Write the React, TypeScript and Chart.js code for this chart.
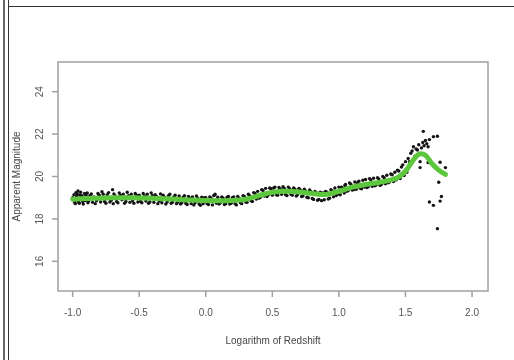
import React, { useEffect, useRef } from "react";
import { Chart, registerables } from "chart.js";

Chart.register(...registerables);

// Observed data (log redshift vs apparent magnitude)
const obsX: number[] = [
  -1.0, -0.99, -0.985, -0.98, -0.975, -0.97, -0.965, -0.96, -0.96, -0.955, -0.95, -0.945, -0.94, -0.93, -0.925, -0.92, -0.91, -0.905, -0.9, -0.89, -0.885, -0.88, -0.87, -0.86, -0.85, -0.84, -0.83, -0.82, -0.81, -0.8, -0.79, -0.78, -0.77, -0.76, -0.75, -0.74, -0.73, -0.72, -0.71, -0.7, -0.695, -0.69, -0.68, -0.67, -0.66, -0.65, -0.64, -0.63, -0.62, -0.61, -0.6, -0.59, -0.58, -0.57, -0.56, -0.55, -0.54, -0.53, -0.52, -0.51,
  -0.5, -0.49, -0.48, -0.47, -0.46, -0.45, -0.44, -0.43, -0.42, -0.41, -0.4, -0.39, -0.38, -0.37, -0.36, -0.35, -0.34, -0.33, -0.32, -0.31, -0.3, -0.29, -0.28, -0.27, -0.26, -0.25, -0.24, -0.23, -0.22, -0.21, -0.2, -0.19, -0.18, -0.17, -0.16, -0.15, -0.14, -0.13, -0.12, -0.11, -0.1, -0.09, -0.08, -0.07, -0.06, -0.05, -0.04, -0.03, -0.02, -0.01,
  0.0, 0.01, 0.02, 0.03, 0.04, 0.05, 0.06, 0.065, 0.07, 0.08, 0.09, 0.1, 0.11, 0.12, 0.13, 0.14, 0.15, 0.16, 0.17, 0.18, 0.19, 0.2, 0.21, 0.22, 0.23, 0.24, 0.25, 0.26, 0.27, 0.28, 0.29, 0.3, 0.31, 0.32, 0.33, 0.34, 0.35, 0.36, 0.37, 0.38, 0.39, 0.4, 0.41, 0.42, 0.43, 0.44, 0.45, 0.46, 0.47, 0.48, 0.49, 0.5,
  0.51, 0.52, 0.53, 0.54, 0.55, 0.56, 0.57, 0.58, 0.59, 0.6, 0.61, 0.62, 0.63, 0.64, 0.65, 0.66, 0.67, 0.68, 0.69, 0.7, 0.71, 0.72, 0.73, 0.74, 0.75, 0.76, 0.77, 0.78, 0.79, 0.8, 0.81, 0.82, 0.83, 0.84, 0.85, 0.86, 0.87, 0.88, 0.89, 0.9, 0.91, 0.92, 0.93, 0.94, 0.95, 0.96, 0.97, 0.98, 0.99, 1.0, 1.045,
  1.01, 1.02, 1.03, 1.04, 1.05, 1.06, 1.07, 1.08, 1.09, 1.1, 1.11, 1.12, 1.13, 1.14, 1.15, 1.16, 1.17, 1.18, 1.19, 1.2, 1.21, 1.22, 1.23, 1.24, 1.25, 1.26, 1.27, 1.28, 1.29, 1.3, 1.31, 1.32, 1.33, 1.34, 1.35, 1.36, 1.37, 1.38, 1.39, 1.4, 1.41, 1.42, 1.43, 1.44, 1.45, 1.46, 1.47, 1.48, 1.49, 1.5, 1.51, 1.52, 1.53, 1.54, 1.55, 1.56, 1.57, 1.58, 1.59, 1.6, 1.62, 1.63, 1.64, 1.65,
  1.634, 1.74, 1.71, 1.68, 1.66, 1.67, 1.61, 1.61, 1.67, 1.76, 1.8, 1.75, 1.77, 1.76, 1.68, 1.71, 1.74
];

const obsY: number[] = [
  19.0, 19.14, 18.78, 18.72, 19.24, 19.08, 19.18, 18.86, 19.32, 18.8, 18.74, 19.12, 19.26, 19.1, 18.82, 18.7, 19.2, 18.86, 19.12, 19.22, 18.76, 18.84, 19.1, 19.18, 18.78, 19.04, 18.72, 18.86, 19.2, 19.12, 18.8, 19.28, 19.16, 18.82, 18.74, 19.14, 19.24, 18.8, 18.88, 19.38, 18.72, 19.18, 19.08, 18.82, 18.76, 19.22, 19.12, 18.9, 19.16, 18.74, 18.82, 19.26, 19.1, 18.78, 19.16, 18.86, 18.74, 19.2, 19.12, 18.8,
  19.12, 18.82, 18.76, 19.2, 19.08, 18.84, 19.16, 18.74, 18.8, 19.22, 19.1, 18.78, 19.14, 19.06, 18.72, 18.84, 19.18, 18.76, 19.12, 19.02, 18.7, 18.8, 19.1, 19.16, 18.74, 18.78, 19.04, 19.12, 18.72, 18.8, 19.08, 18.7, 18.76, 19.02, 19.1, 18.74, 18.68, 19.06, 18.98, 18.72, 19.04, 18.66, 18.76, 19.08, 18.98, 18.7, 18.64, 19.02, 18.72, 19.0,
  19.0, 18.72, 18.68, 19.04, 18.98, 18.66, 19.1, 19.12, 19.16, 18.74, 19.02, 18.7, 18.76, 19.04, 18.98, 18.68, 18.72, 19.02, 19.06, 18.7, 18.74, 19.0, 19.04, 18.72, 18.66, 19.06, 18.98, 18.76, 18.72, 19.1, 19.06, 18.8, 18.78, 19.16, 19.1, 18.86, 18.82, 19.24, 19.2, 18.94, 19.3, 18.98, 19.02, 19.38, 19.34, 19.08, 19.44, 19.06, 19.14, 19.46, 19.42, 19.12,
  19.46, 19.5, 19.14, 19.12, 19.48, 19.4, 19.16, 19.52, 19.44, 19.14, 19.1, 19.5, 19.42, 19.16, 19.12, 19.46, 19.4, 19.08, 19.14, 19.44, 19.36, 19.06, 19.08, 19.4, 19.32, 19.02, 19.0, 19.36, 19.28, 18.96, 18.92, 19.3, 19.24, 18.88, 18.92, 19.26, 18.86, 19.22, 18.9, 19.3, 19.26, 18.94, 18.98, 19.38, 19.32, 19.04, 19.46, 19.1, 19.16, 19.5, 19.58,
  19.14, 19.5, 19.44, 19.22, 19.62, 19.3, 19.34, 19.7, 19.64, 19.36, 19.38, 19.74, 19.4, 19.7, 19.78, 19.44, 19.42, 19.82, 19.5, 19.86, 19.48, 19.52, 19.9, 19.84, 19.54, 19.92, 19.56, 19.6, 19.94, 19.88, 19.58, 19.64, 20.0, 19.94, 19.66, 20.06, 19.7, 19.74, 20.12, 20.08, 19.76, 20.2, 19.84, 20.3, 20.26, 19.9, 20.45, 20.55, 20.05, 20.7, 20.2, 20.85, 20.7, 21.1, 21.2, 21.4, 20.95, 21.3, 21.25, 21.5, 21.35, 21.6, 21.45, 21.7,
  22.13, 21.9, 21.88, 21.74, 21.55, 21.4, 20.7, 20.42, 20.66, 20.67, 20.42, 19.73, 19.06, 18.84, 18.8, 18.64, 17.54
];

// Smoothed fit (green curve)
const fitX: number[] = [-1.0, -0.9, -0.8, -0.7, -0.6, -0.5, -0.4, -0.3, -0.2, -0.1, 0.0, 0.1, 0.2, 0.3, 0.4, 0.5, 0.6, 0.7, 0.8, 0.9, 1.0, 1.1, 1.2, 1.3, 1.4, 1.45, 1.5, 1.55, 1.6, 1.65, 1.7, 1.75, 1.8];
const fitY: number[] = [18.93, 18.96, 18.98, 19.0, 19.0, 18.99, 18.98, 18.95, 18.92, 18.89, 18.87, 18.86, 18.87, 18.93, 19.1, 19.25, 19.3, 19.27, 19.2, 19.15, 19.3, 19.5, 19.62, 19.72, 19.85, 19.98, 20.25, 20.7, 21.05, 21.0, 20.6, 20.3, 20.1];

const xTitle = "Logarithm of Redshift";
const yTitle = "Apparent Magnitude";

const FONT = '10px "Liberation Sans", Arial, sans-serif';

const rAxes = {
  id: "rAxes",
  afterDraw(chart: any) {
    const { ctx, chartArea: a, scales } = chart;
    const x = scales.x;
    const y = scales.y;
    ctx.save();
    ctx.strokeStyle = "#a0a0a0";
    ctx.lineWidth = 1.5;
    ctx.strokeRect(a.left, a.top, a.right - a.left, a.bottom - a.top);
    ctx.font = FONT;
    ctx.fillStyle = "#555";
    ctx.textAlign = "center";
    ctx.textBaseline = "middle";
    x.ticks.forEach((t: any) => {
      const px = x.getPixelForValue(t.value);
      ctx.beginPath();
      ctx.moveTo(px, a.bottom);
      ctx.lineTo(px, a.bottom + 6);
      ctx.stroke();
      ctx.fillText(Number(t.value).toFixed(1), px, a.bottom + 22);
    });
    y.ticks.forEach((t: any) => {
      const py = y.getPixelForValue(t.value);
      ctx.beginPath();
      ctx.moveTo(a.left, py);
      ctx.lineTo(a.left - 6, py);
      ctx.stroke();
      ctx.save();
      ctx.translate(a.left - 18, py);
      ctx.rotate(-Math.PI / 2);
      ctx.fillText(String(t.value), 0, 0);
      ctx.restore();
    });
    ctx.fillStyle = "#444";
    ctx.fillText(xTitle, (a.left + a.right) / 2, a.bottom + 50);
    ctx.save();
    ctx.translate(a.left - 41, (a.top + a.bottom) / 2);
    ctx.rotate(-Math.PI / 2);
    ctx.fillText(yTitle, 0, 0);
    ctx.restore();
    ctx.restore();
  },
};

export default function App() {
  const ref = useRef<HTMLCanvasElement | null>(null);
  useEffect(() => {
    if (!ref.current) return;
    const chart = new Chart(ref.current, {
      type: "scatter",
      data: {
        datasets: [
          {
            label: "fit",
            data: fitX.map((v, i) => ({ x: v, y: fitY[i] })),
            showLine: true,
            borderColor: "#5cc63c",
            borderWidth: 5,
            tension: 0.4,
            pointRadius: 0,
            borderCapStyle: "round",
          },
          {
            label: "obs",
            data: obsX.map((v, i) => ({ x: v, y: obsY[i] })),
            backgroundColor: "#141414",
            pointRadius: 1.7,
            pointBorderWidth: 0,
          },
        ],
      },
      options: {
        responsive: false,
        animation: false,
        layout: { padding: { top: 62, right: 26, left: 0, bottom: 0 } },
        plugins: { legend: { display: false }, tooltip: { enabled: false } },
        scales: {
          x: {
            type: "linear",
            min: -1.11,
            max: 2.12,
            ticks: { stepSize: 0.5, includeBounds: false, display: false },
            grid: { display: false },
            border: { display: false },
            afterFit: (s: any) => {
              s.height = 69;
            },
          },
          y: {
            type: "linear",
            min: 14.6,
            max: 25.4,
            ticks: { stepSize: 2, includeBounds: false, display: false },
            grid: { display: false },
            border: { display: false },
            afterFit: (s: any) => {
              s.width = 58;
            },
          },
        },
      },
      plugins: [rAxes],
    });
    return () => chart.destroy();
  }, []);

  const line = (style: React.CSSProperties) => (
    <div style={{ position: "absolute", background: "#333", ...style }} />
  );

  return (
    <div style={{ position: "fixed", left: 0, top: 0, width: 514, height: 360, background: "#fff" }}>
      <canvas ref={ref} width={514} height={360} style={{ position: "absolute", left: 0, top: 0 }} />
      {line({ left: 3, top: 0, width: 1.5, height: 360, background: "#666" })}
      {line({ left: 7.5, top: 0, width: 1.5, height: 360 })}
      {line({ left: 7.5, top: 5.5, width: 506.5, height: 1.5 })}
    </div>
  );
}
